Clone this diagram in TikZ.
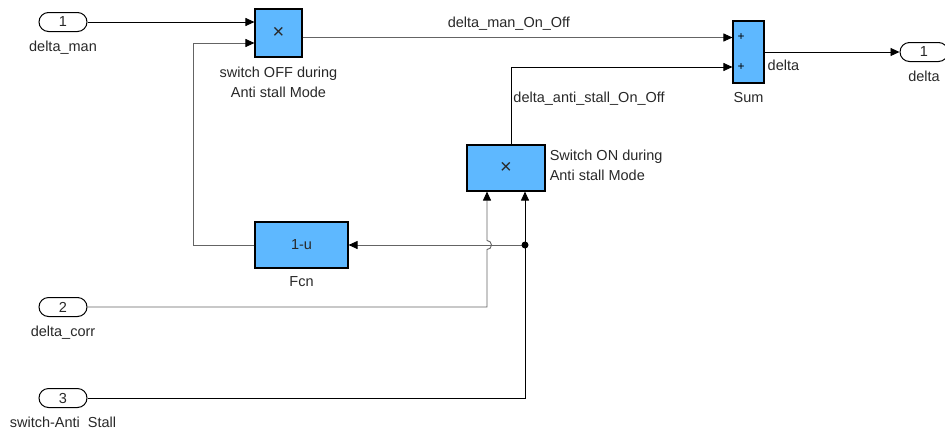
\documentclass[tikz,border=0pt]{standalone}
\usepackage{fontspec}
\setmainfont{Liberation Sans}
\usepackage{xcolor}
\usepackage{tikz}
\usetikzlibrary{arrows.meta,positioning,calc,shapes.misc}
\definecolor{simblue}{RGB}{94,184,255}
\definecolor{simgray}{RGB}{100,100,100}
\definecolor{simtext}{RGB}{40,40,40}

\begin{document}
\begin{tikzpicture}[x=1pt,y=-1pt,
  blk/.style={draw=black,line width=1.1pt,fill=simblue,inner sep=0pt,text=simtext,font=\fontsize{14.5}{16}\selectfont},
  port/.style={draw=black,line width=1pt,rounded rectangle,minimum width=48pt,minimum height=19pt,inner sep=0pt,text=simtext,font=\fontsize{14.5}{16}\selectfont},
  lab/.style={font=\fontsize{14.5}{20}\selectfont,inner sep=1pt,text=simtext},
  sig/.style={line width=0.9pt,black},
  sigg/.style={line width=0.9pt,simgray},
  tip/.style={-{Triangle[length=9pt,width=8pt,color=black]}}]
\useasboundingbox (0,0) rectangle (945,432);
\node[port] (in1) at (63,22) {1}; \node[lab,below=8pt of in1] (in1l) {delta\_man};
\node[port] (in2) at (63,307) {2}; \node[lab,below=8pt of in2] (in2l) {delta\_corr};
\node[port] (in3) at (63,398) {3}; \node[lab,below=8pt of in3] (in3l) {switch-Anti~~Stall};
\node[blk,minimum width=47pt,minimum height=48pt,font=\fontsize{20}{20}\selectfont] (off) at (278.5,33) {×};
\node[lab,align=center,below=8pt of off] (offl) {switch OFF during\\Anti stall Mode};
\node[blk,minimum width=93pt,minimum height=46pt] (fcn) at (301.5,245) {1-u}; \node[lab,below=7pt of fcn] (fcnl) {Fcn};
\node[blk,minimum width=78pt,minimum height=46pt,font=\fontsize{20}{20}\selectfont] (on) at (506,168) {×};
\node[lab,align=left,below right=4pt and 3pt of on.north east] (onl) {Switch ON during\\Anti stall Mode};
\node[blk,minimum width=31pt,minimum height=62pt] (sum) at (748.5,52) {}; \node[lab,below=8pt of sum] (suml) {Sum};
\node[font=\fontsize{12}{12}\selectfont,inner sep=0pt] (plus1) at (741,37.5) {+}; \node[font=\fontsize{12}{12}\selectfont,inner sep=0pt] (plus2) at (741,67) {+};
\node[port] (out1) at (924,52) {1}; \node[lab,below=8pt of out1] (out1l) {delta};
\coordinate (offin1) at ($(off.west)+(0,-11)$); \coordinate (offin2) at ($(off.west)+(0,10)$); \coordinate (offout) at ($(off.east)+(0,4.5)$);
\coordinate (onin1) at ($(on.south)+(-19,0)$); \coordinate (onin2) at ($(on.south)+(19,0)$); \coordinate (onout) at ($(on.north)+(5,0)$);
\coordinate (sumin2) at ($(sum.west)+(0,15)$); \coordinate (jn) at (onin2 |- fcn.east); \coordinate (hop) at (onin1 |- fcn.east);
\draw[sig,tip] (in1.east) -- (offin1);
\draw[sigg,tip] (fcn.west) -- ++(-61,0) |- (offin2);
\draw[sigg,tip] (offout) -- (offout -| sum.west) node[lab,pos=0.48,above=6pt] (manl) {delta\_man\_On\_Off};
\draw[sig,tip] (onout) -- (onout |- sumin2) node[lab,pos=0.59,right=1pt] (antil) {delta\_anti\_stall\_On\_Off} -- (sumin2);
\draw[sig,tip] (sum.east) -- (out1.west) node[lab,pos=0.14,below=7pt] (deltal) {delta};
\draw[sig,tip] (in3.east) -- (in3.east -| onin2) -- (onin2);
\draw[sigg,tip] (jn) -- (fcn.east); \fill (jn) circle[radius=3.5pt];
\draw[sigg,tip] (in2.east) -- (in2.east -| onin1) -- ($(hop)+(0,4.5)$) arc[start angle=-90,end angle=90,radius=4.5pt] -- (onin1);
\end{tikzpicture}
\end{document}
